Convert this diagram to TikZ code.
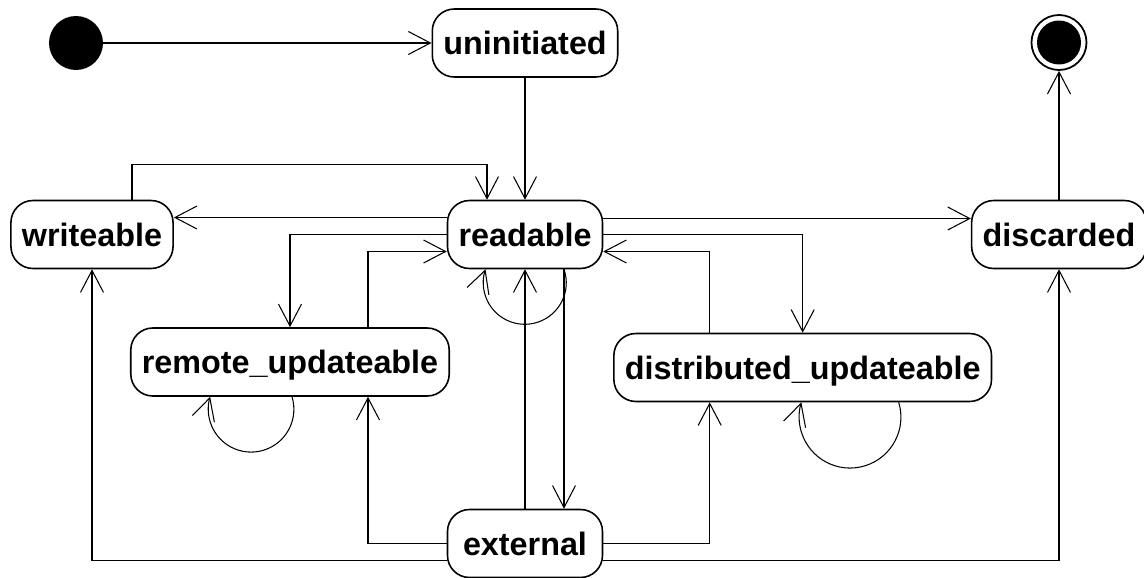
\documentclass[tikz,border=0pt]{standalone}
\usepackage{fontspec}
\setmainfont{Liberation Sans}
\usetikzlibrary{arrows.meta, calc}

\begin{document}
\begin{tikzpicture}[x=0.02cm, y=-0.02cm,
    state/.style={draw, rounded corners=0.44cm, line width=0.9pt,
        minimum height=1.36cm, inner xsep=0.22cm, text height=13.5pt, text depth=0pt,
        font=\bfseries\fontsize{18.4}{20}\selectfont},
    trans/.style={-{Straight Barb[length=0.44cm, width=0.46cm]}, line width=0.6pt}]
    \useasboundingbox (0,0) rectangle (1144,578);

    % start and end
    \node[circle, fill=black, minimum size=1.08cm, inner sep=0] (init) at (76, 43) {};
    \node[circle, draw, line width=1pt, minimum size=1.1cm, inner sep=0] (final) at (1059, 42.5) {};
    \node[circle, fill=black, minimum size=0.88cm, inner sep=0] (finaldot) at (final) {};

    % states
    \node[state] (uninitiated) at (525, 43) {uninitiated};
    \node[state] (readable) at (525, 234.5) {readable};
    \node[state] (writeable) at (92, 234.5) {writeable};
    \node[state] (discarded) at (1059, 234.5) {discarded};
    \node[state] (remote) at (290, 362) {remote\_updateable};
    \node[state] (distributed) at (802.7, 367.5) {distributed\_updateable};
    \node[state, minimum width=3.1cm] (external) at (525, 543.5) {external};

    \draw[trans] (init) -- (uninitiated);
    \draw[trans] (uninitiated) -- (readable);
    \draw[trans] ($(writeable.north)+(40,0)$) |- ($(readable.north)+(-38,-35)$) -- ($(readable.north)+(-38,0)$);
    \draw[trans] ($(readable.west)+(0,-17)$) -- ($(writeable.east)+(0,-17)$);
    \draw[trans] (readable.west) -| (remote.north);
    \draw[trans] ($(remote.north)+(78,0)$) |- ($(readable.west)+(0,17)$);
    \draw[trans] ($(readable.east)+(0,-16)$) -- ($(discarded.west)+(0,-16)$);
    \draw[trans] (readable.east) -| (distributed.north);
    \draw[trans] ($(distributed.north)+(-93,0)$) |- ($(readable.east)+(0,17)$);
    \draw[trans] ($(readable.south)+(39,0)$) -- ($(external.north)+(39,0)$);
    \draw[trans] (external) -- (readable);
    \draw[trans] (external.west) -| ($(remote.south)+(78,0)$);
    \draw[trans] ($(external.west)+(0,17)$) -| (writeable.south);
    \draw[trans] (external.east) -| ($(distributed.south)+(-93,0)$);
    \draw[trans] ($(external.east)+(0,17)$) -| (discarded.south);
    \draw[trans] (discarded) -- (final);

    % self transitions
    \foreach \s/\dx/\r/\a in {readable/39/0.83cm/19, remote/2/0.856cm/17, distributed/96/1.018cm/17}
        \draw[trans] ($(\s.south)+(\dx,0)$) arc[start angle=\a, end angle=-180-\a, radius=\r];
\end{tikzpicture}
\end{document}
